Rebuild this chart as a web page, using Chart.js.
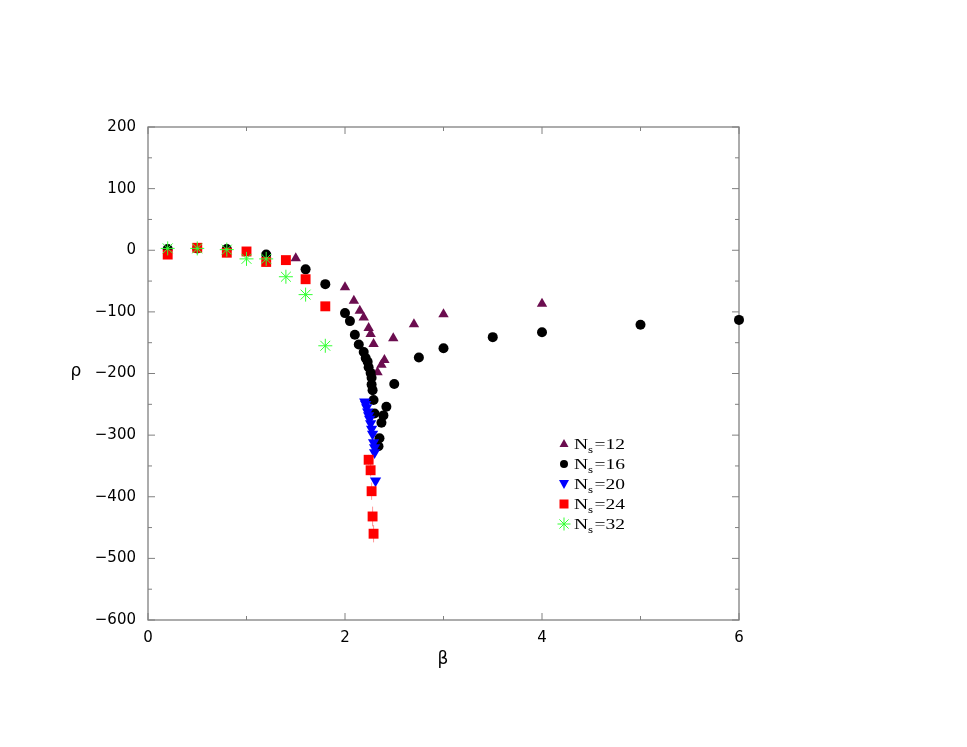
<!DOCTYPE html>
<html lang="en">
<head>
    <meta charset="UTF-8">
    <title>rho vs beta</title>
    <script src="https://cdn.jsdelivr.net/npm/chart.js"></script>
    <style>
        body {
            margin: 0;
            padding: 0;
            background: #ffffff;
        }
    </style>
</head>
<body>
<canvas id="chart" width="967" height="747"></canvas>

<script>
    // values
    const beta12 = [1.5, 2.0, 2.09, 2.15, 2.19, 2.24, 2.26, 2.29, 2.33, 2.37, 2.40, 2.49, 2.70, 3.0, 4.0];
    const rho12  = [-13, -60, -82, -98, -109, -126, -136, -152, -198, -186, -178, -143, -120, -104, -87];

    const beta16 = [0.2, 0.5, 0.8, 1.2, 1.6, 1.8, 2.0, 2.05, 2.1, 2.14, 2.19, 2.21, 2.23, 2.24, 2.26, 2.27, 2.27, 2.28, 2.29, 2.30, 2.42, 2.39, 2.37, 2.35, 2.34, 2.5, 2.75, 3.0, 3.5, 4.0, 5.0, 6.0];
    const rho16  = [2, 3, 2, -7, -31, -55, -102, -115, -137, -153, -165, -175, -181, -190, -199, -207, -218, -227, -243, -265, -254, -268, -280, -305, -318, -217, -174, -159, -141, -133, -121, -113];

    const beta20 = [2.20, 2.21, 2.22, 2.23, 2.24, 2.25, 2.26, 2.27, 2.28, 2.29, 2.30, 2.30, 2.31];
    const rho20  = [-246, -250, -255, -262, -268, -274, -281, -290, -298, -312, -320, -328, -374];

    const beta24 = [0.2, 0.5, 0.8, 1.0, 1.2, 1.4, 1.6, 1.8, 2.24, 2.26, 2.27, 2.28, 2.29];
    const rho24  = [-7, 4, -4, -2, -19, -16, -47, -91, -340, -357, -391, -432, -460];
    const err24  = [0, 0, 0, 0, 0, 0, 0, 0, 8, 10, 14, 16, 14];

    const beta32 = [0.2, 0.5, 0.8, 1.0, 1.2, 1.4, 1.6, 1.8];
    const rho32  = [3, 3, 1, -14, -14, -43, -72, -155];

    const xTicks = [0, 2, 4, 6];
    const yTicks = [200, 100, 0, -100, -200, -300, -400, -500, -600];

    const legendNames = ['12', '16', '20', '24', '32'];

    function pts(xs, ys) {
        return xs.map((x, i) => ({ x: x, y: ys[i] }));
    }

    const purple = '#6b0d4f';
    const green = '#33ff33';
    const axisGray = '#808080';

    // frame with inward ticks on all four sides
    const framePlugin = {
        id: 'frame',
        beforeDatasetsDraw(chart) {
            const ctx = chart.ctx;
            const a = chart.chartArea;
            const xs = chart.scales.x;
            const ys = chart.scales.y;
            ctx.save();
            ctx.strokeStyle = axisGray;
            ctx.lineWidth = 1.3;
            ctx.strokeRect(a.left, a.top, a.right - a.left, a.bottom - a.top);
            ctx.lineWidth = 1;
            for (let v = 0; v <= 6; v += 1) {
                const px = xs.getPixelForValue(v);
                const len = v % 2 === 0 ? 7 : 4;
                ctx.beginPath();
                ctx.moveTo(px, a.bottom); ctx.lineTo(px, a.bottom - len);
                ctx.moveTo(px, a.top); ctx.lineTo(px, a.top + len);
                ctx.stroke();
            }
            for (let v = -600; v <= 200; v += 50) {
                const py = ys.getPixelForValue(v);
                const len = v % 100 === 0 ? 7 : 4;
                ctx.beginPath();
                ctx.moveTo(a.left, py); ctx.lineTo(a.left + len, py);
                ctx.moveTo(a.right, py); ctx.lineTo(a.right - len, py);
                ctx.stroke();
            }
            // error bars for N_s=24
            ctx.strokeStyle = 'rgba(255, 80, 80, 0.6)';
            ctx.lineWidth = 1;
            beta24.forEach((b, i) => {
                if (!err24[i]) return;
                const px = xs.getPixelForValue(b);
                ctx.beginPath();
                ctx.moveTo(px, ys.getPixelForValue(rho24[i] + err24[i]));
                ctx.lineTo(px, ys.getPixelForValue(rho24[i] - err24[i]));
                ctx.stroke();
            });
            ctx.restore();
        },
        afterDraw(chart) {
            const ctx = chart.ctx;
            ctx.save();
            ctx.fillStyle = '#000';
            ctx.font = '17px "DejaVu Sans"';
            ctx.textAlign = 'center';
            ctx.textBaseline = 'middle';
            ctx.fillText('ρ', 76, 372);
            ctx.fillText('β', 443, 660);

            // legend
            const rows = [444, 464, 484, 504, 524];
            const mx = 564;
            rows.forEach((ry, i) => {
                ctx.save();
                if (i === 0) {
                    ctx.fillStyle = purple;
                    ctx.beginPath();
                    ctx.moveTo(mx, ry - 5); ctx.lineTo(mx + 4.5, ry + 3); ctx.lineTo(mx - 4.5, ry + 3);
                    ctx.closePath(); ctx.fill();
                } else if (i === 1) {
                    ctx.fillStyle = '#000';
                    ctx.beginPath(); ctx.arc(mx, ry, 4, 0, Math.PI * 2); ctx.fill();
                } else if (i === 2) {
                    ctx.fillStyle = '#0000ff';
                    ctx.beginPath();
                    ctx.moveTo(mx - 5, ry - 4); ctx.lineTo(mx + 5, ry - 4); ctx.lineTo(mx, ry + 5);
                    ctx.closePath(); ctx.fill();
                } else if (i === 3) {
                    ctx.fillStyle = '#ff0000';
                    ctx.fillRect(mx - 4.5, ry - 4.5, 9, 9);
                } else {
                    ctx.strokeStyle = green;
                    ctx.lineWidth = 1;
                    for (let k = 0; k < 4; k++) {
                        const ang = k * Math.PI / 4;
                        const dx = Math.cos(ang) * 6.5, dy = Math.sin(ang) * 6.5;
                        ctx.beginPath(); ctx.moveTo(mx - dx, ry - dy); ctx.lineTo(mx + dx, ry + dy); ctx.stroke();
                    }
                }
                ctx.restore();
                ctx.save();
                ctx.translate(574, ry);
                ctx.scale(1.3, 1);
                ctx.fillStyle = '#000';
                ctx.textAlign = 'left';
                ctx.textBaseline = 'alphabetic';
                ctx.font = '15px "Liberation Serif"';
                ctx.fillText('N', 0, 5);
                const nw = ctx.measureText('N').width;
                ctx.font = '10px "Liberation Serif"';
                ctx.fillText('s', nw, 9);
                const sw = ctx.measureText('s').width;
                ctx.font = '15px "Liberation Serif"';
                ctx.fillText('=' + legendNames[i], nw + sw + 1, 5);
                ctx.restore();
            });
            ctx.restore();
        }
    };

    const ctx = document.getElementById('chart').getContext('2d');
    new Chart(ctx, {
        type: 'scatter',
        data: {
            datasets: [
                { label: 'Ns=12', data: pts(beta12, rho12), pointStyle: 'triangle', pointRadius: 6, backgroundColor: purple, borderColor: purple, borderWidth: 0, order: 5, clip: false },
                { label: 'Ns=16', data: pts(beta16, rho16), pointStyle: 'circle', pointRadius: 5, backgroundColor: '#000', borderColor: '#000', borderWidth: 0, order: 4, clip: false },
                { label: 'Ns=20', data: pts(beta20, rho20), pointStyle: 'triangle', rotation: 180, pointRadius: 6.5, backgroundColor: '#0000ff', borderColor: '#0000ff', borderWidth: 0, order: 3, clip: false },
                { label: 'Ns=24', data: pts(beta24, rho24), pointStyle: 'rect', pointRadius: 7, backgroundColor: '#ff0000', borderColor: '#ff0000', borderWidth: 0, order: 2, clip: false },
                { label: 'Ns=32', data: pts(beta32, rho32), pointStyle: 'star', pointRadius: 7, backgroundColor: green, borderColor: green, borderWidth: 1, order: 1, clip: false }
            ]
        },
        options: {
            responsive: false,
            animation: false,
            devicePixelRatio: 1,
            layout: {
                padding: { top: 127, right: 228, bottom: 87, left: 0 }
            },
            plugins: {
                legend: { display: false },
                tooltip: { enabled: false }
            },
            scales: {
                x: {
                    type: 'linear',
                    min: 0,
                    max: 6,
                    afterBuildTicks: (scale) => { scale.ticks = xTicks.map(v => ({ value: v })); },
                    afterFit: (scale) => { scale.height = 40; },
                    grid: { display: false, drawTicks: false },
                    border: { display: false },
                    ticks: {
                        padding: 9,
                        color: '#000',
                        font: { family: 'DejaVu Sans', size: 15 }
                    }
                },
                y: {
                    type: 'linear',
                    min: -600,
                    max: 200,
                    afterBuildTicks: (scale) => { scale.ticks = yTicks.map(v => ({ value: v })); },
                    afterFit: (scale) => { scale.width = 148; },
                    grid: { display: false, drawTicks: false },
                    border: { display: false },
                    ticks: {
                        padding: 12,
                        color: '#000',
                        font: { family: 'DejaVu Sans', size: 15 },
                        callback: (v) => String(v).replace('-', '\u2212')
                    }
                }
            }
        },
        plugins: [framePlugin]
    });
</script>
</body>
</html>
